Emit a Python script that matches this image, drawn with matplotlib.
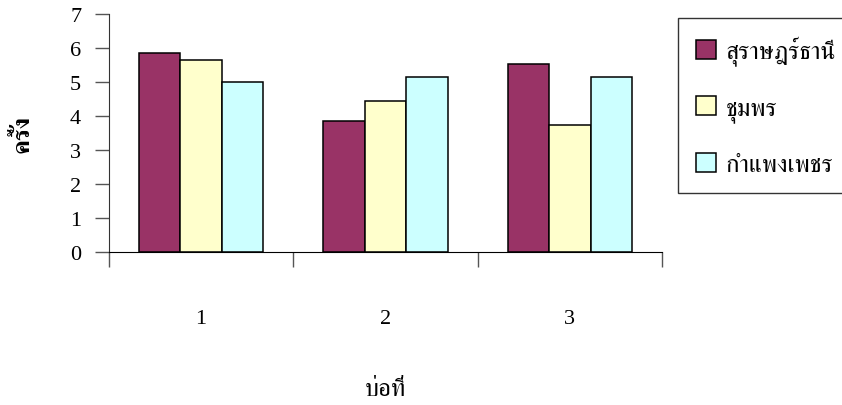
import matplotlib
matplotlib.use("Agg")
import matplotlib.pyplot as plt
from matplotlib.patches import Patch
import numpy as np

plt.rcParams['font.family'] = ['Liberation Serif', 'FreeSerif']

ponds = ["1", "2", "3"]
series_names = ["สุราษฎร์ธานี", "ชุมพร", "กำแพงเพชร"]
surat = [5.86, 3.85, 5.53]
chumphon = [5.64, 4.44, 3.74]
kamphaeng = [5.0, 5.15, 5.15]
y_ticks = [0, 1, 2, 3, 4, 5, 6, 7]

colors = ["#993366", "#FFFFCC", "#CCFFFF"]
values = [surat, chumphon, kamphaeng]

fig = plt.figure(figsize=(8.42, 4.06), dpi=100)
ax = fig.add_axes([109/842, 1-253/406, (662-109)/842, (253-15)/406])

x = np.arange(1, len(ponds) + 1)
w = 0.225
for i, (vals, c) in enumerate(zip(values, colors)):
    ax.bar(x + (i - 1) * w, vals, width=w, color=c, edgecolor="black",
           linewidth=1.1, label=series_names[i])

ax.set_xlim(0.5, len(ponds) + 0.5)
ax.set_ylim(0, 7)
ax.set_yticks(y_ticks)
ax.set_yticklabels([str(t) for t in y_ticks], fontsize=16)

# category boundaries carry the tick marks, centres carry the labels
ax.set_xticks(np.arange(0.5, len(ponds) + 1, 1.0))
ax.set_xticklabels([])
ax.set_xticks(x, minor=True)
ax.set_xticklabels(ponds, minor=True, fontsize=16)
ax.tick_params(axis="x", which="major", direction="out", length=11,
               width=1, color="#555555")
ax.tick_params(axis="x", which="minor", length=0, pad=41)
ax.tick_params(axis="y", direction="out", length=10, width=1,
               color="#555555", pad=10)

for s in ["top", "right"]:
    ax.spines[s].set_visible(False)
ax.spines["left"].set_color("#333333")
ax.spines["bottom"].set_color("black")

ax.set_ylabel("ครั้ง", fontsize=18, fontweight="bold", labelpad=26)
ax.set_xlabel("บ่อที่", fontsize=18, labelpad=36)

handles = [Patch(facecolor=c, edgecolor="black", linewidth=1.1) for c in colors]
leg = fig.legend(handles, series_names, loc="upper left",
                 bbox_to_anchor=(678/842, 1-19/406), fontsize=18,
                 frameon=True, fancybox=False, shadow=False,
                 handlelength=0.8, handleheight=0.8, handletextpad=0.4,
                 labelspacing=1.22, borderpad=0.7, borderaxespad=0)
leg.get_frame().set_edgecolor("black")
leg.get_frame().set_linewidth(1.0)

fig.savefig("out.png", dpi=100)
